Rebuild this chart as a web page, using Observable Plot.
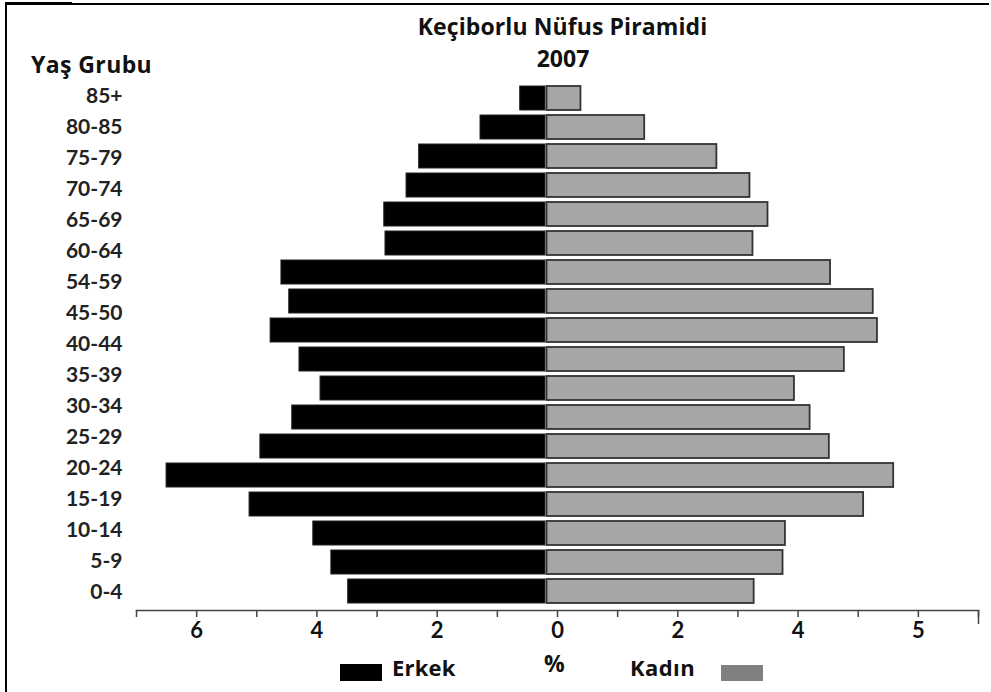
<!DOCTYPE html>
<html><head><meta charset="utf-8">
<script src="https://cdn.jsdelivr.net/npm/d3@7"></script>
<script src="https://cdn.jsdelivr.net/npm/@observablehq/plot@0.6"></script>
<style>
html,body{margin:0;padding:0;background:#fff;}
#wrap{position:relative;width:991px;height:692px;overflow:hidden;font-family:"Open Sans",Lato,sans-serif;color:#111;}
.abs{position:absolute;white-space:nowrap;font-weight:bold;line-height:1;}
.layer{position:absolute;left:0;top:0;}
</style></head><body><div id="wrap">
<div class="abs" style="left:5px;top:3px;width:982px;height:700px;border-left:2px solid #000;border-top:2px solid #000;"></div>
<div class="abs" style="left:5px;top:2px;width:67px;height:3px;background:#000;"></div>
<div id="main" class="layer"></div>
<div id="labels" class="layer"></div>
<div class="abs" id="title" style="left:0;width:1125px;text-align:center;top:15px;font-size:23px;letter-spacing:0.1px;"></div>
<div class="abs" id="year" style="left:0;width:1126px;text-align:center;top:47px;font-size:23px;"></div>
<div class="abs" id="ylab" style="left:31px;top:53px;font-size:23px;letter-spacing:0.4px;"></div>
<div class="abs" style="left:340px;top:664px;width:42px;height:17px;background:#000;"></div>
<div class="abs" id="lgE" style="left:392px;top:656px;font-size:22px;letter-spacing:0.2px;"></div>
<div class="abs" id="lgP" style="left:544px;top:652px;font-size:23px;"></div>
<div class="abs" id="lgK" style="left:630px;top:656px;font-size:22px;letter-spacing:0.4px;"></div>
<div class="abs" style="left:721px;top:665px;width:42px;height:16px;background:#808080;"></div>
</div>
<script>
// Underlying age groups of the 18 bars (top to bottom)
const ageGroups = ["85+","80-84","75-79","70-74","65-69","60-64","55-59","50-54","45-49","40-44","35-39","30-34","25-29","20-24","15-19","10-14","5-9","0-4"];
// Percent values
const erkek = [0.42,1.08,2.10,2.31,2.68,2.66,4.39,4.26,4.57,4.09,3.74,4.21,4.74,6.30,4.92,3.86,3.56,3.28];
const kadin = [0.59,1.65,2.85,3.40,3.70,3.45,4.74,5.45,5.52,4.97,4.14,4.40,4.72,5.79,5.29,3.99,3.95,3.47];
// Age labels as printed on the chart (17 of them)
const ageLabels = ["85+","80-85","75-79","70-74","65-69","60-64","54-59","45-50","40-44","35-39","30-34","25-29","20-24","15-19","10-14","5-9","0-4"];
// Axis tick labels as printed
const axisLabels = ["6","4","2","0","2","4","5"];
const titleText = "Keçiborlu Nüfus Piramidi";
const yearText = "2007";
const yTitle = "Yaş Grubu";
const legendE = "Erkek", legendK = "Kadın", unitText = "%";

document.getElementById("title").textContent = titleText;
document.getElementById("year").textContent = yearText;
document.getElementById("ylab").textContent = yTitle;
document.getElementById("lgE").textContent = legendE;
document.getElementById("lgK").textContent = legendK;
document.getElementById("lgP").textContent = unitText;

const rows = ageGroups.flatMap((a, i) => [
  {age: a, sex: "Erkek", value: -erkek[i]},
  {age: a, sex: "Kadın", value: kadin[i]}
]);

const ticks = d3.range(15).map(k => Math.round((-6.8 + k) * 10) / 10);
const labelTicks = ticks.filter((d, i) => i % 2 === 1);
const labelMap = new Map(labelTicks.map((d, i) => [d, axisLabels[i]]));
const endTick = [ticks[ticks.length - 1]];

const W = 991, H = 650;
const main = Plot.plot({
  width: W, height: H,
  marginLeft: 136, marginRight: 13, marginTop: 80, marginBottom: 40,
  style: {fontFamily: "Lato, 'Open Sans', sans-serif", background: "transparent", overflow: "visible"},
  x: {domain: [-6.8, 7.2], label: null},
  y: {type: "band", domain: ageGroups, range: [82.44, 606.56], paddingInner: 0.18, paddingOuter: 0.09, axis: null},
  marks: [
    Plot.barX(rows.filter(d => d.sex === "Erkek"), {y: "age", x1: 0, x2: "value", fill: "#000", stroke: "#222", strokeWidth: 1}),
    Plot.barX(rows.filter(d => d.sex === "Kadın"), {y: "age", x1: 0, x2: "value", fill: "#a6a6a6", stroke: "#333", strokeWidth: 1.8, insetLeft: 1.5}),
    Plot.frame({anchor: "bottom", stroke: "#444", strokeWidth: 1.5}),
    Plot.axisX(ticks, {text: null, label: null, tickSize: 7, stroke: "#444", strokeWidth: 1.5}),
    Plot.axisX(endTick, {text: null, label: null, tickSize: 14, stroke: "#444", strokeWidth: 1.5}),
    Plot.axisX(labelTicks, {label: null, tickSize: 0, tickPadding: 12, tickFormat: d => labelMap.get(d), fontSize: 22, fontWeight: "bold", fill: "#111"})
  ]
});
document.getElementById("main").appendChild(main);

const lab = Plot.plot({
  width: W, height: H,
  marginLeft: 136, marginRight: 13, marginTop: 80, marginBottom: 40,
  style: {fontFamily: "Lato, 'Open Sans', sans-serif", background: "transparent", overflow: "visible"},
  y: {type: "point", domain: ageLabels, range: [95, 593], padding: 0, label: null},
  marks: [
    Plot.axisY(ageLabels, {label: null, tickSize: 0, tickPadding: 14, fontSize: 21, fontWeight: "bold", fill: "#222"})
  ]
});
document.getElementById("labels").appendChild(lab);
</script>
</body></html>
